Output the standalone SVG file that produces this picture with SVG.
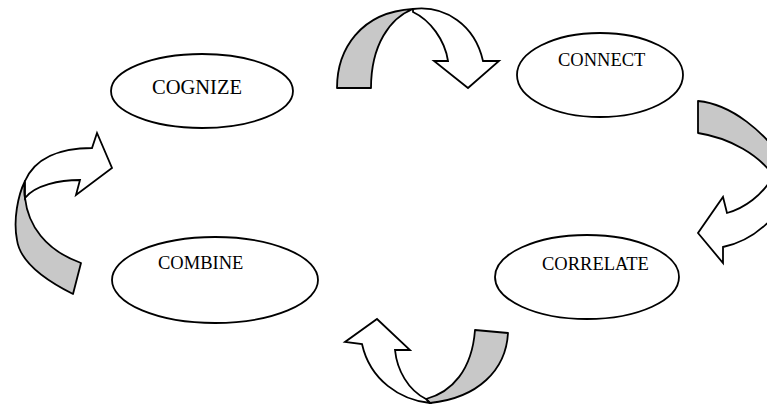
<svg xmlns="http://www.w3.org/2000/svg" width="767" height="404" viewBox="0 0 767 404">
<style>
.node ellipse{fill:#fff;stroke:#000;stroke-width:1.8}
.node text{font-family:"Liberation Serif","Times New Roman",serif;font-size:18.5px;fill:#000}
.back{fill:#c8c8c8;stroke:#000;stroke-width:1.8;stroke-linejoin:round}
.front{fill:#fff;stroke:#000;stroke-width:1.8;stroke-linejoin:miter}
</style>
<rect width="767" height="404" fill="#fff"/>
<g id="connectors">
  <g id="arrow-top">
    <path class="back" d="M337,88 C337,50 360,12 413,9 C390,18 371,45 371,88 Z"/>
    <path class="front" d="M413,9 C445,5 475,25 483,61 L499,61 L468,88 L434,61 L448,61 C445,40 430,20 413,12 Z"/>
  </g>
  <g id="arrow-right">
    <path class="back" d="M698,101 C730,104 765,130 790,170 L775,178 C760,155 730,138 698,133 Z"/>
    <path class="front" d="M727,213 C745,208 762,195 772,178 L790,190 C782,212 757,240 723,247 L723,263 L698,233 L723,197 Z"/>
  </g>
  <g id="arrow-bottom">
    <path class="back" d="M475,330 L508,333 C506,370 478,398 430,403 L426,399 C452,392 472,370 475,330 Z"/>
    <path class="front" d="M430,403 C400,400 370,380 362,344 L345,342 L377,319 L410,350 L395,350 C397,370 408,390 426,399 Z"/>
  </g>
  <g id="arrow-left">
    <path class="back" d="M81,263 L73,294 C45,280 20,262 17,240 C13,220 18,195 25,181 C24,190 24,195 25,198 C28,225 45,250 81,263 Z"/>
    <path class="front" d="M25,181 C35,158 60,148 92,148 L97,133 L112,168 L76,195 L80,180 C60,180 35,185 25,198 Z"/>
  </g>
</g>
<g id="cognize" class="node">
  <ellipse cx="202" cy="91" rx="91" ry="37"/>
  <text x="152" y="94" style="font-size:20.5px">COGNIZE</text>
</g>
<g id="connect" class="node">
  <ellipse cx="600" cy="75" rx="83" ry="42"/>
  <text x="558" y="66">CONNECT</text>
</g>
<g id="correlate" class="node">
  <ellipse cx="587" cy="277" rx="92" ry="42"/>
  <text x="542" y="270">CORRELATE</text>
</g>
<g id="combine" class="node">
  <ellipse cx="215" cy="280" rx="103" ry="43"/>
  <text x="158" y="269">COMBINE</text>
</g>
</svg>
